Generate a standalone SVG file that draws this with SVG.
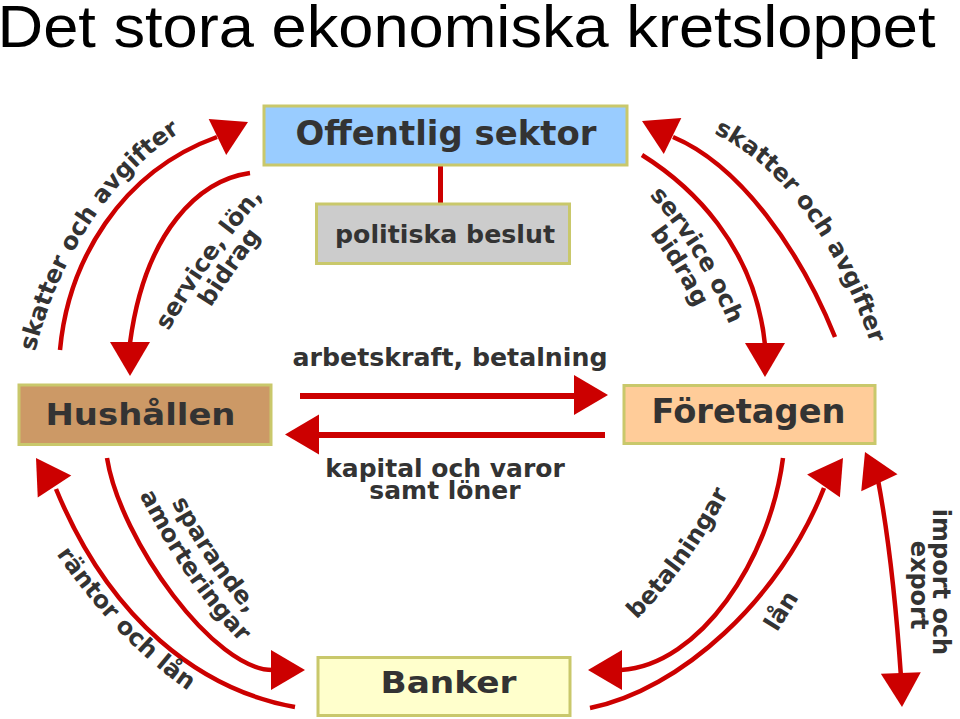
<svg xmlns="http://www.w3.org/2000/svg" width="960" height="719" viewBox="0 0 960 719">
<style>
.box{stroke:#c9c86b;stroke-width:3}
.lbl{font-family:'DejaVu Sans',Verdana,sans-serif;font-weight:bold;fill:#333333}
.cl{font-family:'DejaVu Sans',Verdana,sans-serif;font-weight:bold;fill:#333333;font-size:24px}
.con{fill:none;stroke:#cc0000;stroke-width:4.5}
.st{fill:none;stroke:#cc0000;stroke-width:6}
.ah{fill:#cc0000}
.title{font-family:'Liberation Sans',Arial,sans-serif;fill:#000}
</style>
<defs>
<path id="ah" d="M0,0 L-34,-20 L-34,20 Z"/>
<path id="pA" d="M32,362 L36,348 Q74,206 177,134 L189,126"/>
<path id="pB1" d="M161,344 L167,334 Q208,261 265,194 L273,185"/>
<path id="pB2" d="M183.5,353.6 L189.5,343.6 Q230.5,270.6 287.5,203.6 L295.5,194.6"/>
<path id="pC" d="M705,129 L721,137 Q814,187 868,336 L874,353"/>
<path id="pD1" d="M643,189 L650,196 Q697,249 729,324 L733,333"/>
<path id="pD2" d="M622.6,201.7 L629.6,208.7 Q676.6,261.7 708.6,336.7 L712.6,345.7"/>
<path id="pE" d="M50,545 L57,555 Q117,641 187,690 L197,697"/>
<path id="pF1" d="M156.75,474.5 L161.75,483.5 Q206.75,572.5 261.75,629.5 L268.75,636.5"/>
<path id="pF2" d="M135,487 L140,496 Q185,585 240,642 L247,649"/>
<path id="pG" d="M633,623 L639,617 Q690,566 727,496 L731,489"/>
</defs>

<text class="title" x="-2.5" y="47" font-size="60" textLength="938" lengthAdjust="spacingAndGlyphs">Det stora ekonomiska kretsloppet</text>

<g id="connectors">
<line x1="440.5" y1="166" x2="440.5" y2="203" stroke="#cc0000" stroke-width="5"/>
<path class="con" d="M60,350 C68,262 120,172 217,137"/>
<use href="#ah" class="ah" transform="translate(248,122) rotate(-26)"/>
<path class="con" d="M250,173 C200,180 145,230 130,343"/>
<use href="#ah" class="ah" transform="translate(130,376) rotate(90)"/>
<path class="con" d="M835,337 C800,250 740,165 673,137"/>
<use href="#ah" class="ah" transform="translate(642,121) rotate(-154)"/>
<path class="con" d="M642,155 C690,185 755,245 765,345"/>
<use href="#ah" class="ah" transform="translate(765,377) rotate(90)"/>
<path class="st" d="M300,396 L576,396"/>
<use href="#ah" class="ah" transform="translate(608,395) rotate(0)"/>
<path class="st" d="M605,435 L318,435"/>
<use href="#ah" class="ah" transform="translate(285,434.5) rotate(180)"/>
<path class="con" d="M295,707 C200,690 110,620 56,489"/>
<use href="#ah" class="ah" transform="translate(36,458) rotate(-123)"/>
<path class="con" d="M107,458 C120,540 215,672 274,670"/>
<use href="#ah" class="ah" transform="translate(305,670) rotate(0)"/>
<path class="con" d="M783,458 C770,560 700,665 621,670"/>
<use href="#ah" class="ah" transform="translate(588,670) rotate(180)"/>
<path class="con" d="M590,708 C680,690 780,600 824,488"/>
<use href="#ah" class="ah" transform="translate(843,458) rotate(-55)"/>
<path class="con" d="M878,480 Q893,560 901,677"/>
<use href="#ah" class="ah" transform="translate(865,452) rotate(-115)"/>
<use href="#ah" class="ah" transform="translate(902,707) rotate(88)"/>

<text class="cl"><textPath href="#pA" startOffset="50%" text-anchor="middle">skatter och avgifter</textPath></text>
<text class="cl"><textPath href="#pB1" startOffset="50%" text-anchor="middle">service, lön,</textPath></text>
<text class="cl"><textPath href="#pB2" startOffset="50%" text-anchor="middle">bidrag</textPath></text>
<text class="cl"><textPath href="#pC" startOffset="50%" text-anchor="middle">skatter och avgifter</textPath></text>
<text class="cl"><textPath href="#pD1" startOffset="50%" text-anchor="middle">service och</textPath></text>
<text class="cl"><textPath href="#pD2" startOffset="50%" text-anchor="middle">bidrag</textPath></text>
<text class="cl"><textPath href="#pE" startOffset="50%" text-anchor="middle">räntor och lån</textPath></text>
<text class="cl"><textPath href="#pF1" startOffset="50%" text-anchor="middle">sparande,</textPath></text>
<text class="cl"><textPath href="#pF2" startOffset="50%" text-anchor="middle">amorteringar</textPath></text>
<text class="cl"><textPath href="#pG" startOffset="50%" text-anchor="middle">betalningar</textPath></text>
<text class="cl" text-anchor="middle" transform="translate(788,615) rotate(-58)">lån</text>
<text class="cl" text-anchor="middle" transform="translate(933,582) rotate(90)">import och</text>
<text class="cl" text-anchor="middle" transform="translate(911,585) rotate(90)">export</text>
<text class="lbl" x="450" y="366" font-size="25" text-anchor="middle" textLength="315" lengthAdjust="spacingAndGlyphs">arbetskraft, betalning</text>
<text class="lbl" x="445" y="477" font-size="25" text-anchor="middle">kapital och varor</text>
<text class="lbl" x="445" y="499" font-size="25" text-anchor="middle">samt löner</text>
</g>

<g id="offentlig-sektor">
<rect class="box" x="264" y="106" width="363" height="59" fill="#99ccff"/>
<text class="lbl" x="446" y="145" font-size="33" text-anchor="middle" textLength="301" lengthAdjust="spacingAndGlyphs">Offentlig sektor</text>
</g>
<g id="politiska-beslut">
<rect class="box" x="316.5" y="204" width="253" height="59.5" fill="#cccccc"/>
<text class="lbl" x="445" y="243" font-size="25" text-anchor="middle" textLength="220" lengthAdjust="spacingAndGlyphs">politiska beslut</text>
</g>
<g id="hushallen">
<rect class="box" x="19" y="385" width="252" height="59.5" fill="#cc9966"/>
<text class="lbl" x="140.5" y="425" font-size="30" text-anchor="middle" textLength="190" lengthAdjust="spacingAndGlyphs">Hushållen</text>
</g>
<g id="foretagen">
<rect class="box" x="624" y="385.5" width="251" height="58" fill="#ffcc99"/>
<text class="lbl" x="748.5" y="423" font-size="33" text-anchor="middle" textLength="194" lengthAdjust="spacingAndGlyphs">Företagen</text>
</g>
<g id="banker">
<rect class="box" x="318" y="657.5" width="252" height="58" fill="#ffffcc"/>
<text class="lbl" x="448.5" y="693" font-size="30" text-anchor="middle" textLength="136" lengthAdjust="spacingAndGlyphs">Banker</text>
</g>
</svg>
